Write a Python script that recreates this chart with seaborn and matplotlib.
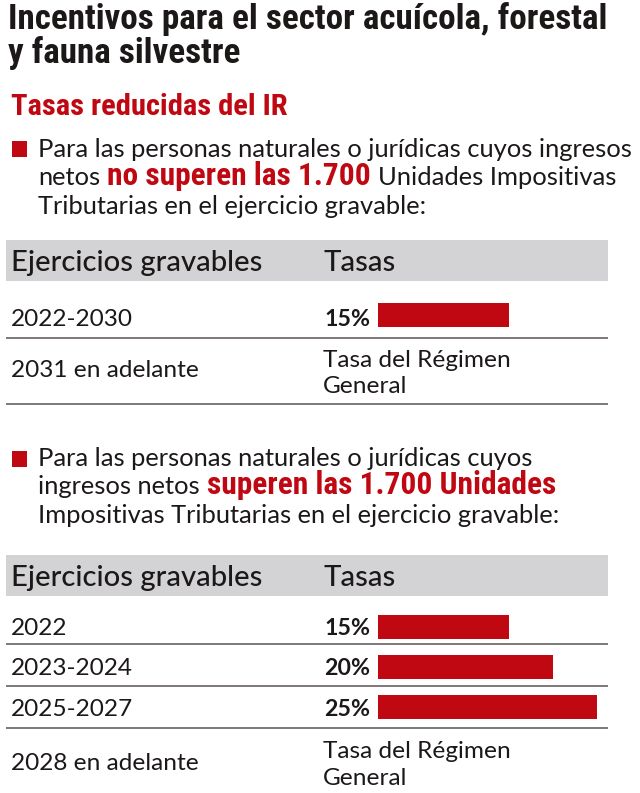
import matplotlib
matplotlib.use("Agg")
import matplotlib.pyplot as plt
import seaborn as sns
import pandas as pd
from matplotlib import font_manager

# --- Data ---
titulo = ["Incentivos para el sector acuícola, forestal", "y fauna silvestre"]
subtitulo = "Tasas reducidas del IR"
encabezados = ["Ejercicios gravables", "Tasas"]
tasa_general = ["Tasa del Régimen", "General"]

periodos_1 = ["2022-2030", "2031 en adelante"]
tasas_1 = [15, None]

periodos_2 = ["2022", "2023-2024", "2025-2027", "2028 en adelante"]
tasas_2 = [15, 20, 25, None]

# "n" = normal text, "b" = red bold highlight
nota_1 = [
    [("Para las personas naturales o jurídicas cuyos ingresos", "n")],
    [("netos", "n"), ("no superen las 1.700", "b"), ("Unidades Impositivas", "n")],
    [("Tributarias en el ejercicio gravable:", "n")],
]
nota_2 = [
    [("Para las personas naturales o jurídicas cuyos", "n")],
    [("ingresos netos", "n"), ("superen las 1.700 Unidades", "b")],
    [("Impositivas Tributarias en el ejercicio gravable:", "n")],
]

RED = "#c00812"
INK = "#1c1818"
GRAY = "#d3d3d5"
RULE = "#5a5252"
W, H = 640, 793


def pick(cands):
    for c in cands:
        try:
            font_manager.findfont(font_manager.FontProperties(family=c), fallback_to_default=False)
            return c
        except ValueError:
            continue
    return "DejaVu Sans"


sns.set_theme(style="white")
COND = pick(["Liberation Sans Narrow", "Roboto Condensed", "Roboto"])
BODY = pick(["Lato", "Roboto", "DejaVu Sans"])
plt.rcParams["font.family"] = [BODY, "DejaVu Sans"]

fig = plt.figure(figsize=(W / 100, H / 100), dpi=100)
ax = fig.add_axes([0, 0, 1, 1])
ax.set_xlim(0, W)
ax.set_ylim(H, 0)
ax.axis("off")
renderer = fig.canvas.get_renderer()


def fit(t, width):
    bb = t.get_window_extent(renderer)
    t.set_fontsize(t.get_fontsize() * width / bb.width)
    return t.get_fontsize()


def measure(txt, size, **kw):
    t = ax.text(0, 0, txt, fontsize=size, **kw)
    w = t.get_window_extent(renderer).width
    t.remove()
    return w


# --- Title & subtitle ---
t = ax.text(8, 29, titulo[0], fontsize=22, fontfamily=COND, fontweight="bold",
            color=INK, va="baseline")
tsize = fit(t, 600)
ax.text(8, 63, titulo[1], fontsize=tsize, fontfamily=COND, fontweight="bold",
        color=INK, va="baseline")
t = ax.text(11, 115, subtitulo, fontsize=20, fontfamily=COND, fontweight="bold",
            color=RED, va="baseline")
fit(t, 276)

# --- body sizes ---
body_size = 15.8 * 593 / measure(nota_1[0][0][0], 15.8)
bold_size = 16 * 263 / measure("no superen las 1.700", 16, fontfamily=COND, fontweight="bold")
gap = 0.27 * body_size / 0.72


def draw_note(lines, y0, top_sq):
    ax.add_patch(plt.Rectangle((12, top_sq), 15, 16, color=RED, lw=0))
    for i, parts in enumerate(lines):
        x = 38
        for txt, kind in parts:
            if kind == "n":
                t = ax.text(x, y0 + 28.3 * i, txt, fontsize=body_size, color=INK, va="baseline")
            else:
                t = ax.text(x, y0 + 28.3 * i, txt, fontsize=bold_size, fontfamily=COND,
                            fontweight="bold", color=RED, va="baseline")
            x = t.get_window_extent(renderer).x1 + gap


draw_note(nota_1, 157, 141)
draw_note(nota_2, 466, 451)

# --- table sizes ---
head_size = 19 * 251 / measure(encabezados[0], 19, fontweight="medium")
row_size = 18 * 122 / measure("2022-2030", 18)


def px_axes(x0, y0, w, h):
    return fig.add_axes([x0 / W, 1 - (y0 + h) / H, w / W, h / H])


def draw_table(periodos, tasas, band_top, baselines, rules, gen_lines, bar_center):
    ax.add_patch(plt.Rectangle((6, band_top), 602, 41, color=GRAY, lw=0))
    for x, txt in zip([11, 323], encabezados):
        ax.text(x, band_top + 31, txt, fontsize=head_size, fontweight="medium",
                color=INK, va="baseline")
    for yl in rules:
        ax.plot([6, 608], [yl, yl], color=RULE, lw=1.1, solid_capstyle="butt")
    for per, tasa, yb in zip(periodos, tasas, baselines):
        ax.text(11, yb, per, fontsize=row_size, color=INK, va="baseline")
        if tasa is not None:
            ax.text(324, yb, f"{tasa}%", fontsize=row_size * 0.95, fontweight="bold",
                    color=INK, va="baseline")
    ax.text(323, gen_lines[0], tasa_general[0], fontsize=row_size, color=INK, va="baseline")
    ax.text(323, gen_lines[1], tasa_general[1], fontsize=row_size, color=INK, va="baseline")

    # bars for the rows that have a rate
    df = pd.DataFrame({"periodo": periodos, "tasa": tasas}).dropna()
    n = len(df)
    bax = px_axes(378, bar_center - 20, 219, 40 * n)
    sns.barplot(data=df, x="tasa", y="periodo", orient="h", color=RED,
                width=0.61, saturation=1, linewidth=0, ax=bax)
    bax.set_xlim(0, 25)
    bax.set_ylim(n - 0.5, -0.5)
    bax.axis("off")


draw_table(periodos_1, tasas_1, 240, [326, 377], [337.5, 403.5], [367, 393], 315)
draw_table(periodos_2, tasas_2, 555, [635, 675, 716, 770], [643.5, 686, 728], [758, 785], 627)

fig.savefig("out.png", dpi=100, facecolor="white")
